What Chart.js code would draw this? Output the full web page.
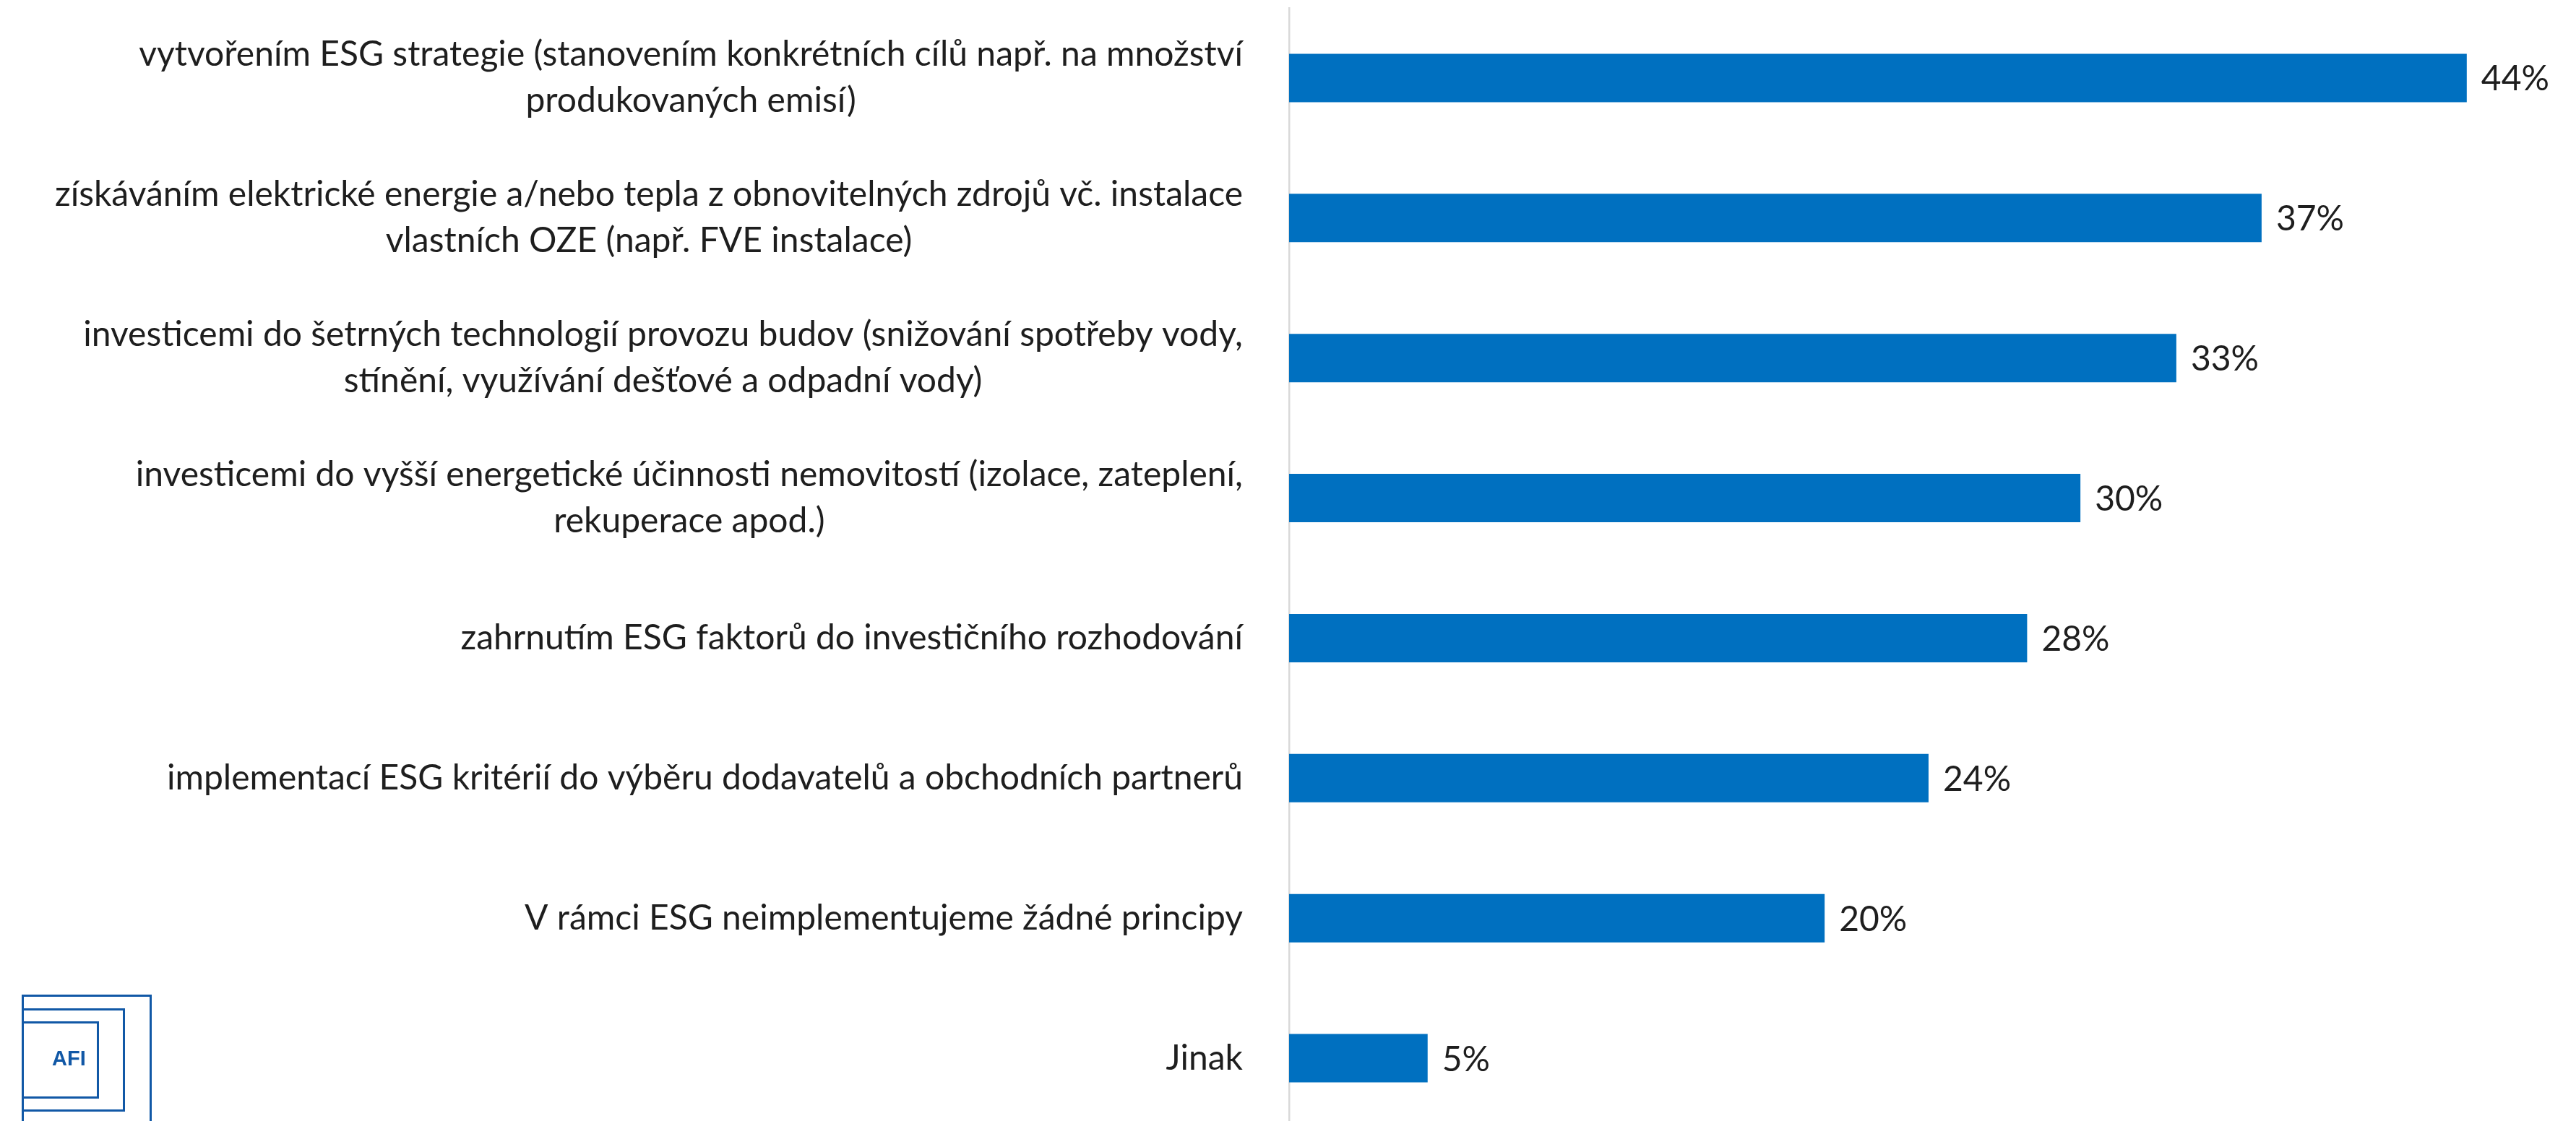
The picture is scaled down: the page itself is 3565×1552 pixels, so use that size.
<!DOCTYPE html>
<html>
<head>
<meta charset="utf-8">
<script src="https://cdn.jsdelivr.net/npm/chart.js@4.4.1/dist/chart.umd.min.js"></script>
<style>
  html, body { margin: 0; padding: 0; background: #fff; overflow: hidden; }
  #wrap { position: relative; width: 3565px; height: 1552px; overflow: hidden; }
  #chart { position: absolute; left: 0; top: 0; }
  .sq { position: absolute; border: 3.5px solid #1158a6; box-sizing: border-box; }
  #afi { position: absolute; left: 72px; top: 1449px; font: bold 29px "Liberation Sans", Arial, sans-serif; color: #1158a6; }
</style>
</head>
<body>
<div id="wrap">
  <canvas id="chart" width="3565" height="1562"></canvas>
  <div class="sq" style="left:30px; top:1377px; width:180px; height:200px;"></div>
  <div class="sq" style="left:30px; top:1396px; width:143px; height:143px;"></div>
  <div class="sq" style="left:30px; top:1414px; width:107px; height:107px;"></div>
  <div id="afi">AFI</div>
</div>
<script>
// odpovědi (řádky popisku)
const categories = [
  ["vytvořením ESG strategie (stanovením konkrétních cílů např. na množství", "produkovaných emisí)"],
  ["získáváním elektrické energie a/nebo tepla z obnovitelných zdrojů vč. instalace", "vlastních OZE (např. FVE instalace)"],
  ["investicemi do šetrných technologií provozu budov (snižování spotřeby vody,", "stínění, využívání dešťové a odpadní vody)"],
  ["investicemi do vyšší energetické účinnosti nemovitostí (izolace, zateplení,", "rekuperace apod.)"],
  ["zahrnutím ESG faktorů do investičního rozhodování"],
  ["implementací ESG kritérií do výběru dodavatelů a obchodních partnerů"],
  ["V rámci ESG neimplementujeme žádné principy"],
  ["Jinak"]
];
const values = [44.2, 36.5, 33.3, 29.7, 27.7, 24.0, 20.1, 5.2];

const barColor = "#0070c0";
const textColor = "#1e1e1e";
const fontFamily = "Lato";

// popisky kategorií – řádky centrované vůči sobě, blok zarovnaný doprava (jako v Excelu)
const categoryLabels = {
  id: "categoryLabels",
  afterDraw(chart) {
    const ctx = chart.ctx;
    const y = chart.scales.y;
    const right = chart.chartArea.left - 64;
    const lineH = 64;
    ctx.save();
    ctx.font = "48px " + fontFamily;
    ctx.fillStyle = textColor;
    ctx.textAlign = "center";
    ctx.textBaseline = "middle";
    categories.forEach((lines, i) => {
      const cy = y.getPixelForTick(i);
      const w = Math.max(...lines.map(l => ctx.measureText(l).width));
      const cx = right - w / 2;
      const y0 = cy - (lines.length - 1) * lineH / 2;
      lines.forEach((l, j) => ctx.fillText(l, cx, y0 + j * lineH));
    });
    ctx.restore();
  }
};

// hodnoty za koncem sloupců
const valueLabels = {
  id: "valueLabels",
  afterDatasetsDraw(chart) {
    const ctx = chart.ctx;
    const meta = chart.getDatasetMeta(0);
    ctx.save();
    ctx.font = "48px " + fontFamily;
    ctx.fillStyle = textColor;
    ctx.textAlign = "left";
    ctx.textBaseline = "middle";
    meta.data.forEach((bar, i) => {
      ctx.fillText(Math.round(values[i]) + "%", bar.x + 20, bar.y + 2);
    });
    ctx.restore();
  }
};

function draw() {
  new Chart(document.getElementById("chart"), {
    type: "bar",
    data: {
      labels: categories.map(c => c.join(" ")),
      datasets: [{
        data: values,
        backgroundColor: barColor,
        borderWidth: 0,
        categoryPercentage: 1,
        barPercentage: 0.346
      }]
    },
    options: {
      indexAxis: "y",
      responsive: false,
      animation: false,
      devicePixelRatio: 1,
      layout: { padding: { top: 11, right: 0, bottom: 0, left: 0 } },
      plugins: {
        legend: { display: false },
        tooltip: { enabled: false }
      },
      scales: {
        x: {
          display: false,
          min: 0,
          max: 48.3
        },
        y: {
          grid: { display: false, drawTicks: false },
          border: { display: true, color: "#d9d9d9", width: 2.5 },
          ticks: { display: false },
          afterFit(scale) { scale.width = 1784; }
        }
      }
    },
    plugins: [categoryLabels, valueLabels]
  });
}

if (document.fonts && document.fonts.load) {
  document.fonts.load("48px " + fontFamily).then(draw, draw);
} else {
  draw();
}
</script>
</body>
</html>
